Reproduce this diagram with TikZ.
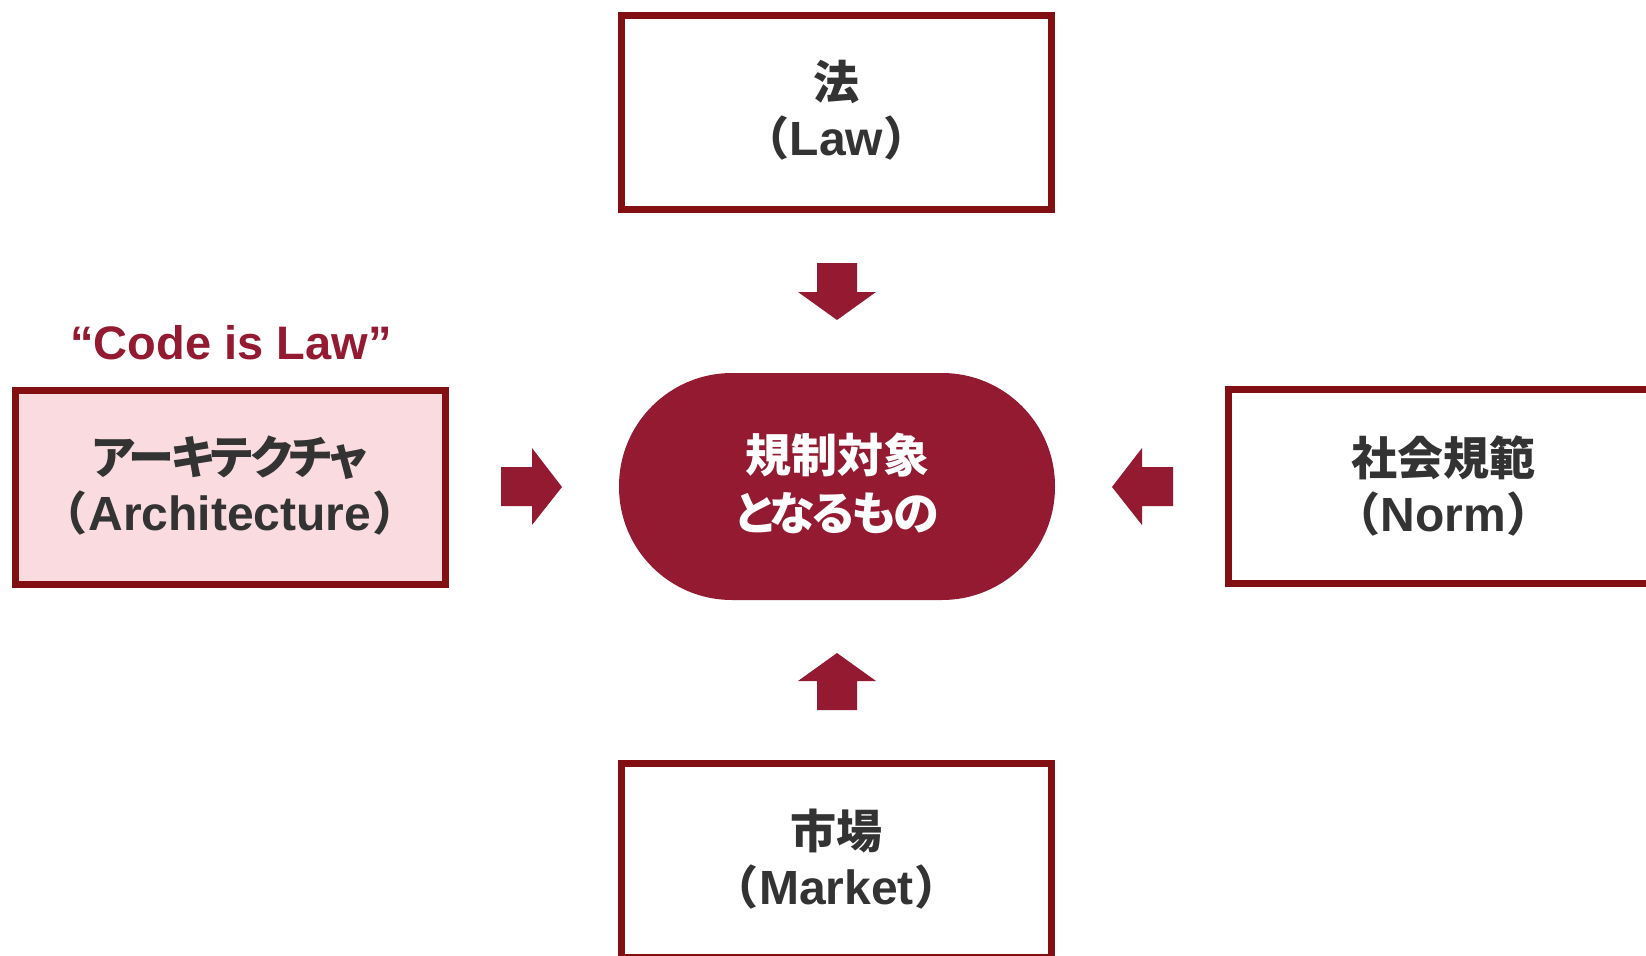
\documentclass[tikz,border=0pt]{standalone}
\usepackage{fontspec}
\setmainfont{Liberation Sans}
\newfontfamily\jp[RawFeature=+palt]{Noto Sans CJK JP}
\newfontfamily\jpk[RawFeature=+palt, LetterSpace=-6]{Noto Sans CJK JP}
\newcommand\pword[1]{{\jp （}\hspace{1.4pt}{\fontsize{24pt}{28pt}\selectfont #1}\hspace{1.4pt}{\jp ）}}
\definecolor{boxred}{HTML}{820F12}
\definecolor{pillred}{HTML}{931A30}
\definecolor{pinkfill}{HTML}{FADCE0}
\definecolor{txtgray}{HTML}{333333}
\tikzset{
  forcebox/.style={draw=boxred, line width=3.5pt, minimum width=215pt, minimum height=97pt,
    inner sep=0pt, align=center, text=txtgray, font=\fontsize{23pt}{28pt}\selectfont\bfseries},
  pillnode/.style={fill=pillred, rounded corners=56.5pt, minimum width=218pt, minimum height=113.5pt,
    inner sep=0pt},
  pilltext/.style={inner sep=0pt, align=center, text=white, font=\fontsize{23pt}{29pt}\selectfont\bfseries},
  blockarrow/.style={fill=pillred, draw=none}
}
\begin{document}
\begin{tikzpicture}[x=0.5pt, y=-0.5pt]
\useasboundingbox (0,0) rectangle (1646,955);
\clip (0,0) rectangle (1646,955);
\node[forcebox] (law) at (836.5,112.5) {};
\node[forcebox, fill=pinkfill] (arch) at (230,487) {};
\node[forcebox] (norm) at (1443.5,486.5) {};
\node[forcebox] (market) at (836.5,860.5) {};
\node[pillnode] (target) at (837,486.5) {};
\node[forcebox, draw=none, yshift=1pt] (lawtext) at (law) {{\jp 法}\\\pword{Law}};
\node[forcebox, draw=none, yshift=0.5pt] (archtext) at (arch) {{\jpk アーキテクチャ}\\\pword{Architecture}};
\node[forcebox, draw=none, yshift=0.5pt] (normtext) at (norm) {{\jp 社会規範}\\\pword{Norm}};
\node[forcebox, draw=none, yshift=0.5pt] (markettext) at (market) {{\jp 市場}\\\pword{Market}};
\node[pilltext, yshift=1.5pt] (targettext) at (target) {{\jp 規制対象}\\{\jpk となるもの}};
\node[text=pillred, font=\fontsize{23.5pt}{28pt}\selectfont\bfseries] (code) at (231,343) {“Code is Law”};
% block arrows
\fill[blockarrow] (817,263) -- (857,263) -- (857,292) -- (876,292) -- (837,320) -- (798,292) -- (817,292) -- cycle;
\fill[blockarrow] (817,710) -- (857,710) -- (857,681) -- (876,681) -- (837,653) -- (798,681) -- (817,681) -- cycle;
\fill[blockarrow] (501,467) -- (532,467) -- (532,448) -- (562,487) -- (532,525) -- (532,506) -- (501,506) -- cycle;
\fill[blockarrow] (1173,467) -- (1142,467) -- (1142,448) -- (1112,487) -- (1142,525) -- (1142,506) -- (1173,506) -- cycle;
\end{tikzpicture}
\end{document}
